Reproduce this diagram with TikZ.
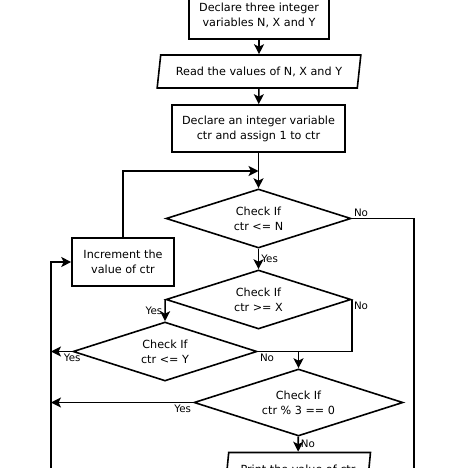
\documentclass[tikz,border=0pt]{standalone}
\usepackage{fontspec}
\setmainfont{DejaVu Sans}
\usetikzlibrary{shapes.geometric,arrows.meta}

\begin{document}
\begin{tikzpicture}[x=1pt,y=-1pt,
    box/.style={draw,line width=1.6pt,align=center,inner sep=0pt,font=\fontsize{11.2}{15}\selectfont},
    io/.style={box,trapezium,trapezium left angle=73,trapezium right angle=107,trapezium stretches=true},
    test/.style={box,diamond,shape aspect=3},
    flow/.style={line width=1.6pt,-{Stealth[length=10pt,width=10pt,inset=2.5pt]}},
    link/.style={line width=1.6pt},
    lbl/.style={font=\fontsize{10.3}{12}\selectfont,inner sep=2pt}]
  \useasboundingbox (0,0) rectangle (474,468);
  \clip (0,0) rectangle (474,468);

  \node (decl) [box,minimum width=140pt,minimum height=48pt] at (259,15) {Declare three integer\\variables N, X and Y};
  \node (read) [io,minimum width=204pt,minimum height=33pt] at (259,71.5) {Read the values of N, X and Y};
  \node (init) [box,minimum width=173pt,minimum height=47pt] at (258.5,128.5) {Declare an integer variable\\ctr and assign 1 to ctr};
  \node (incr) [box,minimum width=102pt,minimum height=48pt] at (123,262) {Increment the\\value of ctr};
  \node (chkN) [test,minimum width=185pt,minimum height=59pt] at (258.5,218.5) {Check If\\ctr <= N};
  \node (chkX) [test,minimum width=185pt,minimum height=59pt] at (258.5,299.5) {Check If\\ctr >= X};
  \node (chkY) [test,minimum width=184pt,minimum height=59pt] at (165,351.5) {Check If\\ctr <= Y};
  \node (chkM) [test,minimum width=209pt,minimum height=67pt] at (298.5,402.5) {Check If\\ctr \% 3 == 0};
  \node (print) [io,minimum width=145pt,minimum height=33pt] at (298,469) {Print the value of ctr};

  \coordinate (merge) at (258.5,171);
  \coordinate (joinM) at (298.5,351.5);
  \coordinate (endL) at (51,480);
  \coordinate (endR) at (414,480);

  \draw [flow] (decl) -- (read);
  \draw [flow] (read) -- (init);
  \draw [flow] (init) -- (chkN);
  \draw [flow] (incr.north) |- (merge);
  \draw [link] (chkN.east) -| (endR);
  \node (noN) [lbl,above right] at (chkN.east) {No};
  \draw [flow] (chkN) -- node [lbl,right] {Yes} (chkX);
  \draw [flow] (chkX.west) -- node [lbl,left] {Yes} (chkY.north);
  \draw [link] (chkX.east) |- (joinM);
  \node (noX) [lbl,below right] at (chkX.east) {No};
  \draw [link] (chkY.east) -- (joinM);
  \node (noY) [lbl,below right] at (chkY.east) {No};
  \draw [flow] (joinM) -- (chkM);
  \draw [flow] (chkY.west) -- (chkY.west -| endL);
  \node (yesY) [lbl,below] at (chkY.west) {Yes};
  \draw [flow] (chkM.west) -- (chkM.west -| endL);
  \node (yesM) [lbl,below left] at (chkM.west) {Yes};
  \draw [flow] (chkM) -- node [lbl,right] {No} (print);
  \draw [flow] (endL) |- (incr.west);
\end{tikzpicture}
\end{document}
